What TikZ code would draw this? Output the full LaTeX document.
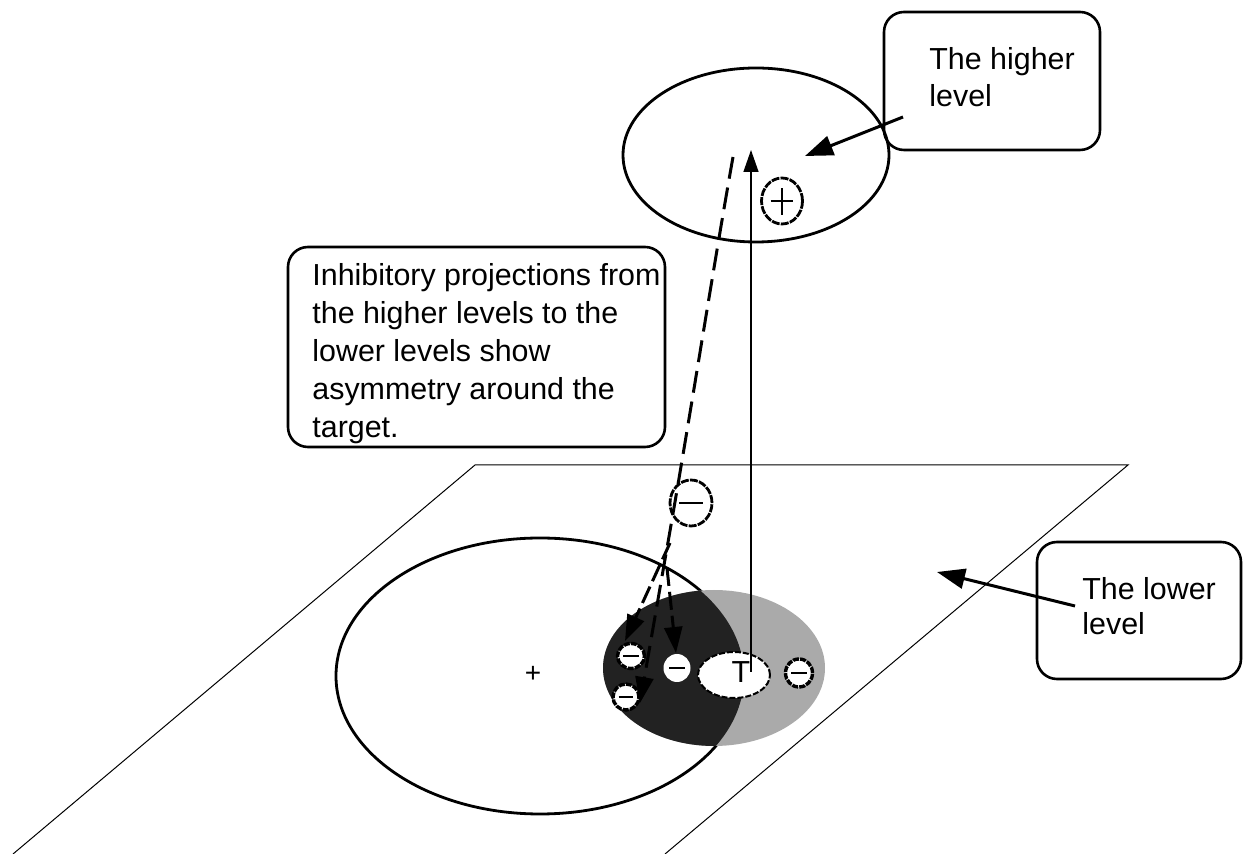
\documentclass[tikz,border=0pt]{standalone}
\usepackage{fontspec}
\setmainfont{Liberation Sans}
\usetikzlibrary{shapes.geometric,arrows.meta,calc}
\definecolor{darkfill}{HTML}{222222}
\definecolor{grayfill}{HTML}{AAAAAA}
\tikzset{
  planeline/.style={line width=0.5pt},
  thickline/.style={line width=1.4pt},
  boxstyle/.style={draw, line width=1.3pt, rounded corners=10pt, inner sep=0pt},
  txt/.style={align=left, inner sep=0pt, anchor=north west},
  roughcirc/.style={ellipse, draw, fill=white, line width=1.7pt, dash pattern=on 3pt off 0.6pt, inner sep=0pt},
  whitecirc/.style={ellipse, fill=white, inner sep=0pt},
  tblob/.style={ellipse, draw, fill=white, line width=1pt, dash pattern=on 3pt off 1pt, inner sep=0pt, minimum width=36pt, minimum height=23pt},
  bigcirc/.style={ellipse, draw, fill=white, line width=1.4pt, dash pattern=on 4pt off 0.6pt, inner sep=0pt, minimum width=20.5pt, minimum height=23pt},
  minusmark/.style={path picture={\draw[line width=0.7pt, solid] ($(path picture bounding box.west)!0.22!(path picture bounding box.east)$) -- ($(path picture bounding box.west)!0.78!(path picture bounding box.east)$);}},
  plusmark/.style={path picture={\draw[line width=0.6pt, solid] ($(path picture bounding box.west)!0.22!(path picture bounding box.east)$) -- ($(path picture bounding box.west)!0.78!(path picture bounding box.east)$); \draw[line width=0.6pt, solid] ($(path picture bounding box.south)!0.2!(path picture bounding box.north)$) -- ($(path picture bounding box.south)!0.78!(path picture bounding box.north)$);}},
  dashline/.style={line width=1.5pt, dash pattern=on 11pt off 4.5pt, -{Triangle[length=13pt,width=9pt]}},
  thinarrow/.style={line width=0.7pt, -{Triangle[length=11pt,width=7.5pt]}},
  bigarrow/.style={line width=1.5pt, -{Triangle[length=14pt,width=10pt]}}
}
\begin{document}
\begin{tikzpicture}[x=0.5pt,y=-0.5pt]
\useasboundingbox (0,0) rectangle (1243,854);
% lower plane
\coordinate (pbl) at (13,854);
\coordinate (ptl) at (475,465);
\coordinate (ptr) at (1128,465);
\coordinate (pbr) at (665,854);
\draw[planeline] (pbl) -- (ptl) -- (ptr) -- (pbr);
% big receptive field
\node[ellipse, draw, thickline, minimum width=204pt, minimum height=138pt, inner sep=0pt] (bigell) at (540,676) {};
% shaded surround
\fill[grayfill] (714,668) ellipse [x radius=55.5pt, y radius=39pt];
\begin{scope}
  \clip (540,676) ellipse [x radius=102pt, y radius=69pt];
  \fill[darkfill] (714,668) ellipse [x radius=55.5pt, y radius=39pt];
\end{scope}
\node[inner sep=0pt, font=\fontsize{14pt}{16pt}\selectfont] (cplus) at (533,674) {+};
% small inhibitory units
\node[roughcirc, minusmark, minimum width=13.5pt, minimum height=12.5pt] (ma) at (631,656) {};
\node[roughcirc, minusmark, minimum width=13pt, minimum height=13pt] (mb) at (626,697) {};
\node[roughcirc, minusmark, minimum width=13.5pt, minimum height=14pt] (mc) at (799,673) {};
\node[whitecirc, minusmark, minimum width=13.5pt, minimum height=14pt] (md) at (677,668) {};
\node[tblob] (tb) at (734,675) {};
\node[inner sep=0pt, font=\fontsize{15.2pt}{18pt}\selectfont] (tl) at (741,672) {T};
% higher level ellipse
\node[ellipse, draw, thickline, minimum width=133pt, minimum height=87pt, inner sep=0pt] (hell) at (756,155) {};
\node[bigcirc, plusmark] (pc) at (782,201) {};
\node[bigcirc, minusmark, minimum width=21pt] (mline) at (691,503) {};
% vertical projection
\coordinate (vs) at (751,672);
\coordinate (ve) at (751,150);
\draw[thinarrow] (vs) -- (ve);
% inhibitory dashed projections
\coordinate (dtop) at (733,157);
\coordinate (djn) at (664,565);
\coordinate (d3) at (640,703);
\draw[dashline] (dtop) .. controls (712,275) and (688,430) .. (djn) -- (d3);
\coordinate (a1s) at (670,543);
\coordinate (a1e) at (625,641);
\draw[dashline, dash pattern=on 9pt off 3pt] (a1s) -- (a1e);
\coordinate (a2s) at (667,568);
\coordinate (a2e) at (676,653);
\draw[dashline, dash pattern=on 9pt off 3pt] (a2s) -- (a2e);
% boxes
\node[boxstyle, minimum width=188.5pt, minimum height=100pt] (ibox) at (476.5,347) {};
\node[txt, font=\fontsize{15.2pt}{19pt}\selectfont] (itext) at (312,263) {Inhibitory projections from\\the higher levels to the\\lower levels show\\asymmetry around the\\target.};
\node[boxstyle, minimum width=108pt, minimum height=69pt] (hbox) at (992,81) {};
\node[txt, font=\fontsize{15.2pt}{18.5pt}\selectfont] (htext) at (929,47) {The higher\\level};
\node[boxstyle, minimum width=102pt, minimum height=68.5pt] (lbox) at (1139,610.5) {};
\node[txt, font=\fontsize{15.2pt}{17.5pt}\selectfont] (ltext) at (1082,577) {The lower\\level};
% pointers
\coordinate (hs) at (903,117);
\coordinate (he) at (805,156);
\draw[bigarrow] (hs) -- (he);
\coordinate (ls) at (1075,606);
\coordinate (le) at (937,572);
\draw[bigarrow] (ls) -- (le);
\end{tikzpicture}
\end{document}
